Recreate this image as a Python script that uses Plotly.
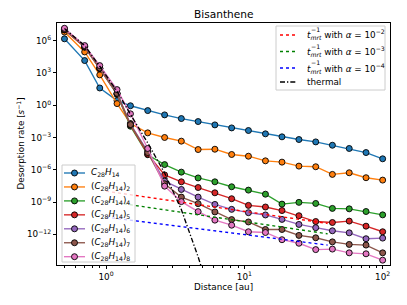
import plotly.graph_objects as go

# ---------------- data ----------------
distance = [0.5, 0.7, 0.9, 1.2, 1.5, 2.0, 2.65, 3.5, 4.63, 6.12, 8.09, 10.7,
            14.2, 18.7, 24.8, 32.8, 43.3, 57.3, 75.8, 100.0]

# log10 of desorption rate [s^-1]
log_c1 = [6.17, 4.15, 1.6, 0.43, -0.05, -0.50, -0.90, -1.24, -1.52, -1.83, -2.11,
          -2.35, -2.66, -2.94, -3.19, -3.41, -3.72, -4.02, -4.40, -4.98]
log_c2 = [6.8, 4.95, 2.82, 0.15, -1.7, -2.57, -3.0, -3.34, -4.12, -4.09, -4.58,
          -4.74, -5.17, -5.29, -5.66, -5.72, -6.43, -6.28, -6.74, -6.96]
log_c4 = [7.0, 5.4, 3.4, 1.0, -1.95, -4.6, -5.52, -6.22, -6.76, -7.12, -7.58,
          -7.89, -8.27, -9.19, -9.03, -9.13, -9.59, -9.63, -9.88, -10.19]
log_c5 = [7.0, 5.4, 3.4, 1.05, -1.85, -4.55, -6.48, -7.12, -7.65, -8.14, -8.69,
          -9.31, -9.46, -9.79, -10.27, -10.81, -10.9, -10.77, -11.24, -11.76]
log_c6 = [7.05, 5.45, 3.45, 1.1, -1.75, -4.3, -7.06, -7.83, -8.54, -9.22, -9.68,
          -9.99, -10.2, -10.61, -11.08, -11.38, -11.67, -11.86, -12.41, -12.35]
log_c7 = [7.05, 5.45, 3.45, 1.1, -1.8, -4.4, -7.3, -8.54, -9.15, -9.92, -10.63,
          -10.85, -11.55, -11.55, -12.1, -12.32, -12.7, -12.94, -13.0, -13.72]
log_c8 = [7.15, 5.54, 3.68, 1.45, -0.8, -4.02, -7.52, -8.96, -9.89, -10.68, -11.15,
          -11.76, -11.83, -12.5, -12.83, -13.42, -13.37, -13.72, -13.81, -14.4]

series_names = [
    "<i>C</i><sub>28</sub><i>H</i><sub>14</sub>",
    "(<i>C</i><sub>28</sub><i>H</i><sub>14</sub>)<sub>2</sub>",
    "(<i>C</i><sub>28</sub><i>H</i><sub>14</sub>)<sub>4</sub>",
    "(<i>C</i><sub>28</sub><i>H</i><sub>14</sub>)<sub>5</sub>",
    "(<i>C</i><sub>28</sub><i>H</i><sub>14</sub>)<sub>6</sub>",
    "(<i>C</i><sub>28</sub><i>H</i><sub>14</sub>)<sub>7</sub>",
    "(<i>C</i><sub>28</sub><i>H</i><sub>14</sub>)<sub>8</sub>",
]
series_logs = [log_c1, log_c2, log_c4, log_c5, log_c6, log_c7, log_c8]
series_colors = ["#1f77b4", "#ff7f0e", "#2ca02c", "#d62728", "#9467bd", "#8c564b", "#e377c2"]

# t_mrt^-1 lines
mrt_distance = [1.0, 40.0]
log_mrt_a2 = [-7.99, -10.99]
log_mrt_a3 = [-8.92, -11.95]
log_mrt_a4 = [-10.4, -13.0]
mrt_alpha_exp = ["−2", "−3", "−4"]
mrt_colors = ["#ff0000", "#008000", "#0000ff"]

# thermal rate
thermal_distance = [0.5, 0.7, 0.9, 1.2, 1.5, 2.0, 2.65, 3.5, 4.63, 6.12]
log_thermal = [7.12, 5.54, 3.62, 1.3, -0.85, -3.5, -6.3, -9.7, -14.1, -19.0]

y_tick_exps = [6, 3, 0, -3, -6, -9, -12]
x_tick_vals = [1, 10, 100]
x_tick_text = ["10<sup>0</sup>", "10<sup>1</sup>", "10<sup>2</sup>"]
x_minor_vals = [0.5, 0.6, 0.7, 0.8, 0.9, 2, 3, 4, 5, 6, 7, 8, 9,
                20, 30, 40, 50, 60, 70, 80, 90]

FONT = "DejaVu Sans"
FS = 8.8          # 10 pt at the reference's dpi
SCREEN_W, SCREEN_H = 407, 305
OFF = 8           # default <body> margin of the page written by write_html
W, H = SCREEN_W - OFF, SCREEN_H - OFF
# plot area in screen pixels
PL, PR, PT, PB = 57, 390, 23, 265
THERMAL_DASH = "5px,2px,1.3px,2px"
LW = 1.35


def px(x):
    return (x - PL) / (PR - PL)


def py(y):
    return (PB - y) / (PB - PT)


fig = go.Figure()

for name, logs, col in zip(series_names, series_logs, series_colors):
    fig.add_trace(go.Scatter(
        x=distance, y=[10 ** v for v in logs], name=name, mode="lines+markers",
        line=dict(color=col, width=LW),
        marker=dict(color=col, size=6, line=dict(color="black", width=0.9)),
        showlegend=False,
    ))

for e, logs, col in zip(mrt_alpha_exp, [log_mrt_a2, log_mrt_a3, log_mrt_a4], mrt_colors):
    fig.add_trace(go.Scatter(
        x=mrt_distance, y=[10 ** v for v in logs], name="t_mrt^-1, alpha=10^" + e,
        mode="lines", line=dict(color=col, width=LW, dash="dot"), showlegend=False,
    ))

fig.add_trace(go.Scatter(
    x=thermal_distance, y=[10 ** v for v in log_thermal], name="thermal", mode="lines",
    line=dict(color="black", width=LW, dash=THERMAL_DASH), showlegend=False,
))

# ---------------- compact matplotlib-style legends ----------------
shapes = []
annotations = []
BOX_STYLE = dict(type="rect", xref="paper", yref="paper", layer="above",
                 fillcolor="rgba(255,255,255,0.8)", line=dict(color="#cccccc", width=1))


def text_ann(text, x, y, size=FS, xanchor="left", angle=0):
    return dict(text=text, xref="paper", yref="paper", x=px(x), y=py(y),
                xanchor=xanchor, yanchor="middle", showarrow=False, textangle=angle,
                font=dict(family=FONT, size=size, color="black"))


# legend 1 (bottom left)
shapes.append(dict(BOX_STYLE, x0=px(62), x1=px(135), y0=py(262), y1=py(165)))
for i, (name, col) in enumerate(zip(series_names, series_colors)):
    yc = 173 + i * 13.95
    shapes.append(dict(type="line", xref="paper", yref="paper", layer="above",
                       x0=px(64), x1=px(85), y0=py(yc), y1=py(yc),
                       line=dict(color=col, width=LW)))
    shapes.append(dict(type="circle", xref="paper", yref="paper", layer="above",
                       xsizemode="pixel", ysizemode="pixel",
                       xanchor=px(74.5), yanchor=py(yc), x0=-3, x1=3, y0=-3, y1=3,
                       fillcolor=col, line=dict(color="black", width=0.9)))
    annotations.append(text_ann(name, 89, yc))

# legend 2 (top right)
shapes.append(dict(BOX_STYLE, x0=px(276), x1=px(385), y0=py(90), y1=py(26)))
leg2_y = [35, 51.5, 68, 82]
for yc, e, col in zip(leg2_y[:3], mrt_alpha_exp, mrt_colors):
    shapes.append(dict(type="line", xref="paper", yref="paper", layer="above",
                       x0=px(280), x1=px(297), y0=py(yc), y1=py(yc),
                       line=dict(color=col, width=LW, dash="dot")))
    annotations.append(text_ann(
        "<i>t</i><sub><i>mrt</i></sub> with <i>α</i> = 10<sup>" + e + "</sup>", 305, yc))
    # stacked superscript of t_mrt^-1 (matplotlib mathtext stacks sub/sup)
    annotations.append(text_ann("−1", 308.6, yc - 5.5, size=6.2))
shapes.append(dict(type="line", xref="paper", yref="paper", layer="above",
                   x0=px(280), x1=px(297), y0=py(leg2_y[3]), y1=py(leg2_y[3]),
                   line=dict(color="black", width=LW, dash=THERMAL_DASH)))
annotations.append(text_ann("thermal", 305, leg2_y[3]))

# axis titles and plot title placed like matplotlib's
annotations.append(text_ann("Distance [au]", (PL + PR) / 2, 287, xanchor="center"))
annotations.append(text_ann("Desorption rate [<i>s</i><sup>−1</sup>]", 20.5, (PT + PB) / 2,
                            xanchor="center", angle=-90))
annotations.append(text_ann("Bisanthene", (PL + PR) / 2, 14.5, size=10.6, xanchor="center"))

axis_common = dict(
    showline=True, linecolor="black", linewidth=1, mirror=True,
    ticks="outside", ticklen=3.1, tickwidth=0.9, tickcolor="black",
    showgrid=False, zeroline=False,
    tickfont=dict(family=FONT, size=FS, color="black"),
)

fig.update_layout(
    width=W, height=H,
    margin=dict(l=PL - OFF, r=SCREEN_W - PR, t=PT - OFF, b=SCREEN_H - PB, pad=0),
    paper_bgcolor="white", plot_bgcolor="white",
    font=dict(family=FONT, size=FS, color="black"),
    showlegend=False,
    xaxis=dict(type="log", range=[-0.355, 2.053],
               tickvals=x_tick_vals, ticktext=x_tick_text,
               minor=dict(tickvals=x_minor_vals, ticks="outside", ticklen=1.8,
                          tickcolor="black", tickwidth=0.7),
               **axis_common),
    yaxis=dict(type="log", range=[-14.85, 7.64],
               tickvals=[10 ** e for e in y_tick_exps],
               ticktext=["10<sup>" + str(e).replace("-", "−") + "</sup>" for e in y_tick_exps],
               **axis_common),
    shapes=shapes,
    annotations=annotations,
)

fig.write_html("out.html")
